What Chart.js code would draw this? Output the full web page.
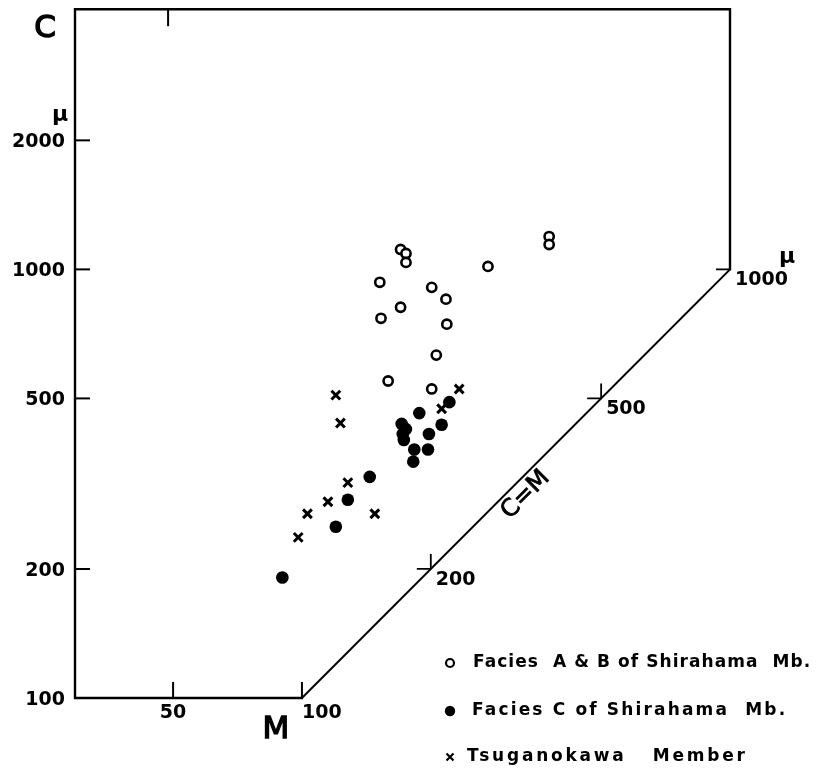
<!DOCTYPE html>
<html>
<head>
<meta charset="utf-8">
<script src="https://cdn.jsdelivr.net/npm/chart.js@4/dist/chart.umd.min.js"></script>
<style>
  html, body { margin: 0; padding: 0; background: #fff; }
  #wrap { width: 818px; height: 775px; position: relative; }
</style>
</head>
<body>
<div id="wrap"><canvas id="chart"></canvas></div>
<script>
// Grain size: C (coarsest) vs M (median), both in microns
const openM   = [170, 175, 175, 272, 378, 378, 152, 201, 217, 170, 153, 218, 206, 159, 201];
const openC   = [1113, 1089, 1038, 1016, 1193, 1143, 933, 908, 852, 816, 769, 745, 631, 549, 526];
const filledM = [221, 188, 171, 175, 172, 173, 198, 212, 183, 197, 182, 144, 128, 120, 90];
const filledC = [490, 462, 436, 424, 413, 400, 413, 434, 380, 380, 356, 328, 290, 251, 191];
const crossM  = [120, 123, 233, 212, 128, 115, 103, 148, 98];
const crossC  = [509, 438, 526, 473, 318, 287, 269, 269, 237];

const yTicks = [100, 200, 500, 1000, 2000];
const xTicks = [50, 100];
const diagTicks = [200, 500, 1000];
const legendLabels = [
    "Facies  A & B of Shirahama  Mb.",
    "Facies C of Shirahama  Mb.",
    "Tsuganokawa   Member"
];

const X_MIN = 29.5, X_MAX = 1000, Y_MIN = 100, Y_MAX = 4046;
const FONT = '"DejaVu Sans", sans-serif';

function pts(xs, ys) {
    return xs.map((x, i) => ({ x: x, y: ys[i] }));
}

// axes, frame, labels and legend drawn by hand (the figure has no regular axes)
const framePlugin = {
    id: 'frame',
    afterDatasetsDraw(chart) {
        const ctx = chart.ctx;
        const xs = chart.scales.x, ys = chart.scales.y;
        const px = v => xs.getPixelForValue(v);
        const py = v => ys.getPixelForValue(v);
        const left = px(X_MIN), right = px(X_MAX);
        const top = py(Y_MAX), bottom = py(Y_MIN);
        const x100 = px(100), y1000 = py(1000);

        ctx.save();
        ctx.strokeStyle = '#000';
        ctx.fillStyle = '#000';
        ctx.lineWidth = 2.4;
        ctx.lineCap = 'square';

        // outline: left axis, top, right edge, bottom axis up to M=100
        ctx.beginPath();
        ctx.moveTo(x100, bottom);
        ctx.lineTo(left, bottom);
        ctx.lineTo(left, top);
        ctx.lineTo(right, top);
        ctx.lineTo(right, y1000);
        ctx.stroke();

        ctx.lineCap = 'butt';
        ctx.lineWidth = 2;
        // y ticks (inward)
        yTicks.forEach(v => {
            if (v === 100) return;
            ctx.beginPath();
            ctx.moveTo(left, py(v));
            ctx.lineTo(left + 15, py(v));
            ctx.stroke();
        });
        // x ticks on bottom (up) and top (down)
        xTicks.forEach(v => {
            ctx.beginPath();
            ctx.moveTo(px(v), bottom);
            ctx.lineTo(px(v), bottom - 16);
            ctx.stroke();
        });
        ctx.beginPath();
        ctx.moveTo(px(50) - 5, top);
        ctx.lineTo(px(50) - 5, top + 17);
        ctx.stroke();

        // ticks on the C=M line
        ctx.lineWidth = 1.8;
        diagTicks.forEach(v => {
            ctx.beginPath();
            ctx.moveTo(px(v) - 14, py(v));
            ctx.lineTo(px(v), py(v));
            if (v !== 1000) {
                ctx.moveTo(px(v), py(v));
                ctx.lineTo(px(v), py(v) - 15);
            }
            ctx.stroke();
        });

        // tick labels
        ctx.font = 'bold 19px ' + FONT;
        ctx.textBaseline = 'middle';
        ctx.textAlign = 'right';
        yTicks.forEach(v => ctx.fillText(String(v), left - 10, py(v) + 2));
        ctx.textAlign = 'center';
        ctx.fillText('50', px(50), bottom + 15);
        ctx.textAlign = 'left';
        ctx.fillText('100', x100, bottom + 15);
        diagTicks.forEach(v => ctx.fillText(String(v), px(v) + 5, py(v) + 11));
        ctx.font = 'bold 22px ' + FONT;
        ctx.fillText('\u03bc', left - 23, py(2000) - 25);
        ctx.fillText('\u03bc', px(1000) + 49, py(1000) - 12);

        // axis names (stroked a little to get the heavy print look)
        ctx.font = '31px ' + FONT;
        ctx.textAlign = 'center';
        ctx.lineWidth = 1.4;
        ctx.fillText('C', 45, 29);
        ctx.strokeText('C', 45, 29);
        ctx.fillText('M', x100 - 26, bottom + 32);
        ctx.strokeText('M', x100 - 26, bottom + 32);

        // C=M label along the diagonal
        ctx.save();
        ctx.translate(px(315) + 10.5, py(315) + 10.5);
        ctx.rotate(-Math.PI / 4);
        ctx.font = '24px ' + FONT;
        ctx.lineWidth = 0.8;
        ctx.fillText('C=M', 0, 0);
        ctx.strokeText('C=M', 0, 0);
        ctx.restore();

        // legend
        const rows = [663, 711, 757];
        const lx = 450;
        ctx.lineWidth = 2.2;
        ctx.beginPath();
        ctx.arc(lx, rows[0], 4, 0, Math.PI * 2);
        ctx.stroke();
        ctx.beginPath();
        ctx.arc(lx, rows[1], 5.2, 0, Math.PI * 2);
        ctx.fill();
        ctx.beginPath();
        ctx.moveTo(lx - 3.5, rows[2] - 3.5);
        ctx.lineTo(lx + 3.5, rows[2] + 3.5);
        ctx.moveTo(lx + 3.5, rows[2] - 3.5);
        ctx.lineTo(lx - 3.5, rows[2] + 3.5);
        ctx.stroke();

        ctx.font = 'bold 17px ' + FONT;
        ctx.textAlign = 'left';
        const tx = [473, 472, 467];
        const tEnd = [810, 785, 745];
        legendLabels.forEach((t, i) => {
            ctx.letterSpacing = '0px';
            const w = ctx.measureText(t).width;
            const ls = Math.max(0, (tEnd[i] - tx[i] - w) / (t.length - 1));
            ctx.letterSpacing = ls.toFixed(2) + 'px';
            ctx.fillText(t, tx[i], rows[i]);
        });
        ctx.restore();
    }
};

new Chart(document.getElementById('chart').getContext('2d'), {
    type: 'scatter',
    data: {
        datasets: [
            {
                label: 'C=M',
                data: [{ x: 100, y: 100 }, { x: 1000, y: 1000 }],
                showLine: true,
                borderColor: '#000',
                borderWidth: 2,
                pointRadius: 0
            },
            {
                label: 'Facies A & B of Shirahama Mb.',
                data: pts(openM, openC),
                pointStyle: 'circle',
                pointRadius: 4.6,
                backgroundColor: '#fff',
                borderColor: '#000',
                borderWidth: 2.6
            },
            {
                label: 'Facies C of Shirahama Mb.',
                data: pts(filledM, filledC),
                pointStyle: 'circle',
                pointRadius: 6.3,
                backgroundColor: '#000',
                borderColor: '#000',
                borderWidth: 0
            },
            {
                label: 'Tsuganokawa Member',
                data: pts(crossM, crossC),
                pointStyle: 'crossRot',
                pointRadius: 6.2,
                borderColor: '#000',
                borderWidth: 3
            }
        ]
    },
    options: {
        responsive: true,
        maintainAspectRatio: false,
        animation: false,
        events: [],
        layout: { padding: { left: 75, right: 88, top: 7, bottom: 77 } },
        plugins: {
            legend: { display: false },
            tooltip: { enabled: false }
        },
        scales: {
            x: { type: 'logarithmic', min: X_MIN, max: X_MAX, display: false },
            y: { type: 'logarithmic', min: Y_MIN, max: Y_MAX, display: false }
        }
    },
    plugins: [framePlugin]
});
</script>
</body>
</html>
